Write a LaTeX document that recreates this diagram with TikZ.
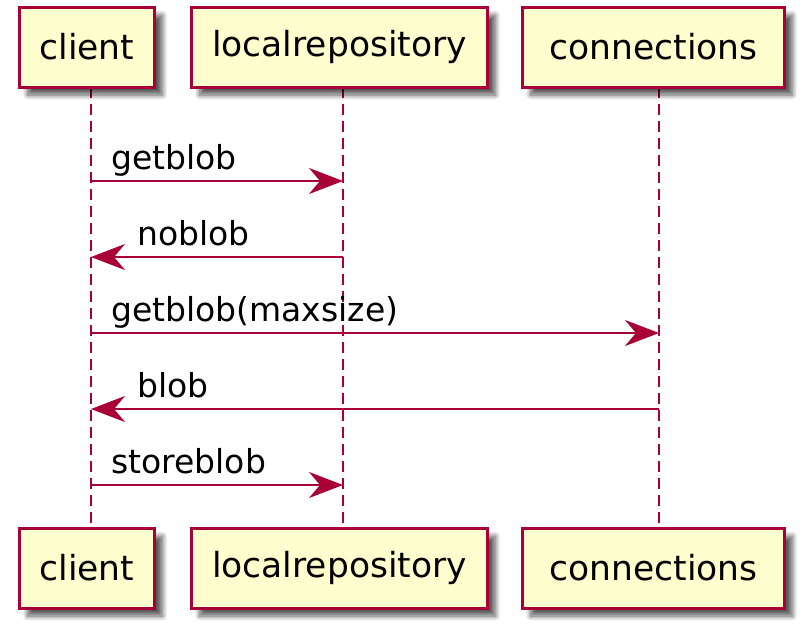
\documentclass[tikz,border=0pt]{standalone}
\usepackage{fontspec}
\setmainfont{DejaVu Sans}
\usetikzlibrary{arrows.meta,shadows.blur}
\definecolor{umlred}{HTML}{A80036}
\definecolor{umlfill}{HTML}{FEFECE}
\tikzset{
  part/.style={draw=umlred, line width=3pt, fill=umlfill, minimum height=80pt, inner sep=0pt,
    font=\fontsize{34.5}{40}\selectfont,
    blur shadow={shadow xshift=8pt, shadow yshift=-8pt, shadow blur radius=5pt, shadow blur steps=12, shadow opacity=65}},
  life/.style={draw=umlred, line width=2.4pt, dash pattern=on 11pt off 6pt},
  msg/.style={draw=umlred, line width=2pt, -{Stealth[length=34pt, width=26pt, inset=11pt]}},
  lbl/.style={anchor=base west, inner sep=0pt, font=\fontsize{33}{38}\selectfont},
}
\begin{document}
\begin{tikzpicture}[x=1pt,y=-1pt]
\useasboundingbox (0,0) rectangle (810,633);
% lifelines
\coordinate (c1) at (91,87);  \coordinate (c2) at (91,528);
\coordinate (l1) at (343,87); \coordinate (l2) at (343,528);
\coordinate (k1) at (659,87); \coordinate (k2) at (659,528);
\draw[life] (c1) -- (c2);
\draw[life] (l1) -- (l2);
\draw[life] (k1) -- (k2);
% participants
\node[part, minimum width=135pt] (ct) at (87,47) {client};
\node[part, minimum width=296pt] (lt) at (339.5,47) {localrepository};
\node[part, minimum width=262pt] (kt) at (653.5,47) {connections};
\node[part, minimum width=135pt] (cb) at (87,568) {client};
\node[part, minimum width=296pt] (lb) at (339.5,568) {localrepository};
\node[part, minimum width=262pt] (kb) at (653.5,568) {connections};
% messages
\coordinate (a1) at (91,181);  \coordinate (b1) at (343,181);
\coordinate (a2) at (91,257);  \coordinate (b2) at (343,257);
\coordinate (a3) at (91,333);  \coordinate (b3) at (659,333);
\coordinate (a4) at (91,409);  \coordinate (b4) at (659,409);
\coordinate (a5) at (91,485);  \coordinate (b5) at (343,485);
\draw[msg] (a1) -- (b1);
\draw[msg] (b2) -- (a2);
\draw[msg] (a3) -- (b3);
\draw[msg] (b4) -- (a4);
\draw[msg] (a5) -- (b5);
\node[lbl] (m1) at (111,169) {getblob};
\node[lbl] (m2) at (137,245) {noblob};
\node[lbl] (m3) at (111,321) {getblob(maxsize)};
\node[lbl] (m4) at (137,397) {blob};
\node[lbl] (m5) at (111,473) {storeblob};
\end{tikzpicture}
\end{document}
